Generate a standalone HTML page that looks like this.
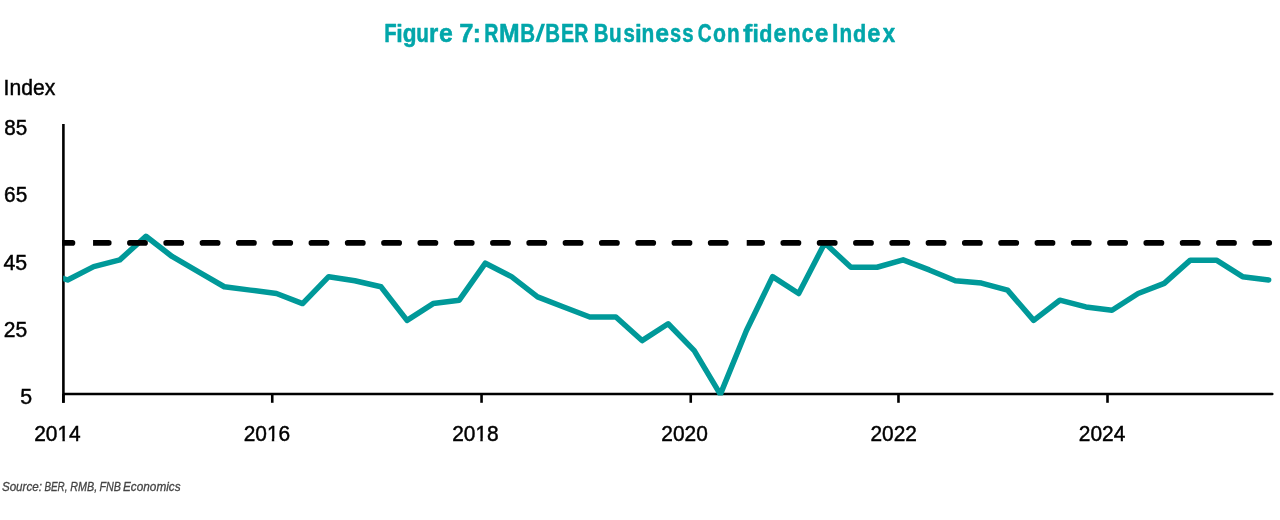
<!DOCTYPE html>
<html><head><meta charset="utf-8"><title>Figure 7</title>
<style>
html,body{margin:0;padding:0;background:#fff;}
body{width:1280px;height:520px;overflow:hidden;position:relative;font-family:"Liberation Sans",sans-serif;}
svg{position:absolute;left:0;top:0;display:block;will-change:transform;}
text{font-family:"Liberation Sans",sans-serif;}
.ax{font-size:21.33px;fill:#000;stroke:#000;stroke-width:0.45px;}
.ttl{font-size:25.45px;font-weight:bold;fill:#02a6aa;stroke:#02a6aa;stroke-width:0.5px;stroke-linejoin:round;}
.src{font-size:12.85px;font-style:italic;fill:#444;stroke:#444;stroke-width:0.3px;}
</style></head><body>
<svg width="1280" height="520" viewBox="0 0 1280 520">
<defs>
<clipPath id="plot"><rect x="63.2" y="100" width="1215" height="295.6"/></clipPath>
<clipPath id="plot2"><rect x="62.2" y="100" width="1215" height="300"/></clipPath>
</defs>
<!-- title -->
<g class="ttl"><text transform="translate(384.14 41.85) scale(0.7978 1.000)">F</text><text transform="translate(396.20 41.85) scale(0.9143 0.957)">i</text><text transform="translate(402.70 41.85) scale(0.8872 1.000)">g</text><text transform="translate(416.22 41.85) scale(0.8131 1.000)">u</text><text transform="translate(429.07 41.85) scale(0.9351 1.000)">r</text><text transform="translate(439.07 41.85) scale(0.9773 1.000)">e</text><text transform="translate(459.25 41.85) scale(1.0047 1.000)">7</text><text transform="translate(472.80 41.85) scale(0.9561 1.000)">:</text><text transform="translate(484.37 41.85) scale(0.7746 1.000)">R</text><text transform="translate(499.09 41.85) scale(0.9729 1.000)">M</text><text transform="translate(520.23 41.85) scale(0.8052 1.000)">B</text><polygon points="535.2,41.8 538.8,41.8 545.1,23.7 541.5,23.7" stroke="none"/><text transform="translate(545.23 41.85) scale(0.8052 1.000)">B</text><text transform="translate(560.88 41.85) scale(0.7714 1.000)">E</text><text transform="translate(574.18 41.85) scale(0.7685 1.000)">R</text><text transform="translate(593.63 41.85) scale(0.8052 1.000)">B</text><text transform="translate(608.92 41.85) scale(0.8131 1.000)">u</text><text transform="translate(623.38 41.85) scale(0.8022 1.000)">s</text><text transform="translate(634.95 41.85) scale(0.9519 0.957)">i</text><text transform="translate(641.53 41.85) scale(0.8209 1.000)">n</text><text transform="translate(655.17 41.85) scale(0.9773 1.000)">e</text><text transform="translate(669.99 41.85) scale(0.7864 1.000)">s</text><text transform="translate(682.28 41.85) scale(0.8022 1.000)">s</text><text transform="translate(697.70 41.85) scale(0.7527 1.000)">C</text><text transform="translate(712.88 41.85) scale(0.8323 1.000)">o</text><text transform="translate(726.94 41.85) scale(0.8131 1.000)">n</text><text transform="translate(743.10 41.85) scale(1.0943 0.957)">f</text><text transform="translate(752.39 41.85) scale(0.8893 0.957)">i</text><text transform="translate(759.13 41.85) scale(0.8481 0.957)">d</text><text transform="translate(773.42 41.85) scale(0.9148 1.000)">e</text><text transform="translate(787.72 41.85) scale(0.8288 1.000)">n</text><text transform="translate(801.68 41.85) scale(0.8363 1.000)">c</text><text transform="translate(814.78 41.85) scale(0.9617 1.000)">e</text><text transform="translate(832.08 41.85) scale(0.9122 1.000)">I</text><text transform="translate(839.44 41.85) scale(0.8131 1.000)">n</text><text transform="translate(853.07 41.85) scale(0.8518 0.957)">d</text><text transform="translate(867.31 41.85) scale(0.9304 1.000)">e</text><text transform="translate(882.77 41.85) scale(0.8745 1.000)">x</text></g>
<!-- axis labels -->
<g class="ax">
<text x="3.6" y="95" textLength="51.7" lengthAdjust="spacingAndGlyphs">Index</text>
<text x="27.2" y="135.00" text-anchor="end" textLength="22.89" lengthAdjust="spacingAndGlyphs">85</text><text x="27.2" y="201.90" text-anchor="end" textLength="23.10" lengthAdjust="spacingAndGlyphs">65</text><text x="27.2" y="270.00" text-anchor="end" textLength="23.72" lengthAdjust="spacingAndGlyphs">45</text><text x="27.2" y="336.50" text-anchor="end" textLength="23.41" lengthAdjust="spacingAndGlyphs">25</text>
<text x="20.2" y="404.3">5</text>
<text x="57.50" y="441" text-anchor="middle" textLength="46.5" lengthAdjust="spacingAndGlyphs">2014</text><text x="266.90" y="441" text-anchor="middle" textLength="46.5" lengthAdjust="spacingAndGlyphs">2016</text><text x="475.40" y="441" text-anchor="middle" textLength="46.5" lengthAdjust="spacingAndGlyphs">2018</text><text x="684.60" y="441" text-anchor="middle" textLength="46.5" lengthAdjust="spacingAndGlyphs">2020</text><text x="893.70" y="441" text-anchor="middle" textLength="46.5" lengthAdjust="spacingAndGlyphs">2022</text><text x="1102.10" y="441" text-anchor="middle" textLength="46.5" lengthAdjust="spacingAndGlyphs">2024</text><rect x="58.00" y="438.6" width="4.42" height="3.3" fill="#fff" stroke="none"/><rect x="64.83" y="438.6" width="4.2" height="3.3" fill="#fff" stroke="none"/><rect x="267.40" y="438.6" width="4.42" height="3.3" fill="#fff" stroke="none"/><rect x="274.23" y="438.6" width="4.2" height="3.3" fill="#fff" stroke="none"/><rect x="475.90" y="438.6" width="4.42" height="3.3" fill="#fff" stroke="none"/><rect x="482.73" y="438.6" width="4.2" height="3.3" fill="#fff" stroke="none"/>
</g>
<!-- axes -->
<g stroke="#000" stroke-width="2.6" fill="none">
<line x1="63.4" y1="124.1" x2="63.4" y2="402.8"/>
<line x1="64" y1="393.95" x2="1272.3" y2="393.95" stroke-width="2.5" stroke-linecap="round"/>
<line x1="63.40" y1="394" x2="63.40" y2="402.8"/><line x1="272.25" y1="394" x2="272.25" y2="402.8"/><line x1="481.55" y1="394" x2="481.55" y2="402.8"/><line x1="690.75" y1="394" x2="690.75" y2="402.8"/><line x1="898.47" y1="394" x2="898.47" y2="402.8"/><line x1="1107.50" y1="394" x2="1107.50" y2="402.8"/>
</g>
<!-- data line -->
<path clip-path="url(#plot)" d="M41.49 270.94 L67.60 280.02 L93.71 266.57 L119.82 259.84 L145.93 236.29 L172.04 256.48 L198.15 271.61 L224.26 286.75 L250.37 290.12 L276.48 293.48 L302.59 303.57 L328.70 276.66 L354.81 280.70 L380.92 286.75 L407.03 320.39 L433.14 303.57 L459.25 300.21 L485.36 263.20 L511.47 276.66 L537.58 296.84 L563.69 306.94 L589.80 317.03 L615.91 317.03 L642.02 340.58 L668.13 323.76 L694.24 350.67 L720.35 394.40 L746.46 330.48 L772.57 276.66 L798.68 293.48 L824.79 243.02 L850.90 267.24 L877.01 267.24 L903.12 259.84 L929.23 269.93 L955.34 280.70 L981.45 283.05 L1007.56 290.12 L1033.67 320.39 L1059.78 300.21 L1085.89 306.94 L1112.00 310.30 L1138.11 293.48 L1164.22 283.39 L1190.33 260.18 L1216.44 260.18 L1242.55 276.66 L1268.66 280.02" fill="none" stroke="#009999" stroke-width="5.5" stroke-linejoin="round" stroke-linecap="round"/>
<!-- reference line at 50 -->
<g clip-path="url(#plot2)" stroke="#000" stroke-width="5.6" stroke-linecap="round"><line x1="57.25" y1="242.90" x2="72.50" y2="242.90"/><path d="M93.05 240.10 H108.80 A2.80 2.80 0 0 1 108.80 245.70 H93.05 Z" fill="#000" stroke="none"/><line x1="129.85" y1="242.90" x2="145.10" y2="242.90"/><line x1="166.15" y1="242.90" x2="181.40" y2="242.90"/><line x1="202.45" y1="242.90" x2="217.70" y2="242.90"/><line x1="238.75" y1="242.90" x2="254.00" y2="242.90"/><line x1="275.05" y1="242.90" x2="290.30" y2="242.90"/><line x1="311.35" y1="242.90" x2="326.60" y2="242.90"/><line x1="347.65" y1="242.90" x2="362.90" y2="242.90"/><line x1="383.95" y1="242.90" x2="399.20" y2="242.90"/><line x1="420.25" y1="242.90" x2="435.50" y2="242.90"/><line x1="456.55" y1="242.90" x2="471.80" y2="242.90"/><line x1="492.85" y1="242.90" x2="508.10" y2="242.90"/><line x1="529.15" y1="242.90" x2="544.40" y2="242.90"/><line x1="565.45" y1="242.90" x2="580.70" y2="242.90"/><line x1="601.75" y1="242.90" x2="617.00" y2="242.90"/><line x1="638.05" y1="242.90" x2="653.30" y2="242.90"/><line x1="674.35" y1="242.90" x2="689.60" y2="242.90"/><line x1="710.65" y1="242.90" x2="725.90" y2="242.90"/><path d="M746.72 240.10 H762.20 A2.80 2.80 0 0 1 762.20 245.70 H746.72 Z" fill="#000" stroke="none"/><line x1="783.25" y1="242.90" x2="798.50" y2="242.90"/><line x1="819.55" y1="242.90" x2="834.80" y2="242.90"/><line x1="855.85" y1="242.90" x2="871.10" y2="242.90"/><line x1="892.15" y1="242.90" x2="907.40" y2="242.90"/><line x1="928.45" y1="242.90" x2="943.70" y2="242.90"/><line x1="964.75" y1="242.90" x2="980.00" y2="242.90"/><line x1="1001.05" y1="242.90" x2="1016.30" y2="242.90"/><line x1="1037.35" y1="242.90" x2="1052.60" y2="242.90"/><line x1="1073.65" y1="242.90" x2="1088.90" y2="242.90"/><line x1="1109.95" y1="242.90" x2="1125.20" y2="242.90"/><line x1="1146.25" y1="242.90" x2="1161.50" y2="242.90"/><line x1="1182.55" y1="242.90" x2="1197.80" y2="242.90"/><line x1="1218.85" y1="242.90" x2="1234.10" y2="242.90"/><line x1="1255.15" y1="242.90" x2="1269.35" y2="242.90"/></g>
<!-- source -->
<g class="src">
<text x="1.9" y="490.7" textLength="40.1" lengthAdjust="spacingAndGlyphs">Source:</text>
<text x="44.4" y="490.7" textLength="23.1" lengthAdjust="spacingAndGlyphs">BER,</text>
<text x="70.3" y="490.7" textLength="26.9" lengthAdjust="spacingAndGlyphs">RMB,</text>
<text x="99.4" y="490.7" textLength="21.5" lengthAdjust="spacingAndGlyphs">FNB</text>
<text x="123.0" y="490.7" textLength="57.6" lengthAdjust="spacingAndGlyphs">Economics</text>
</g>
</svg>
</body></html>
